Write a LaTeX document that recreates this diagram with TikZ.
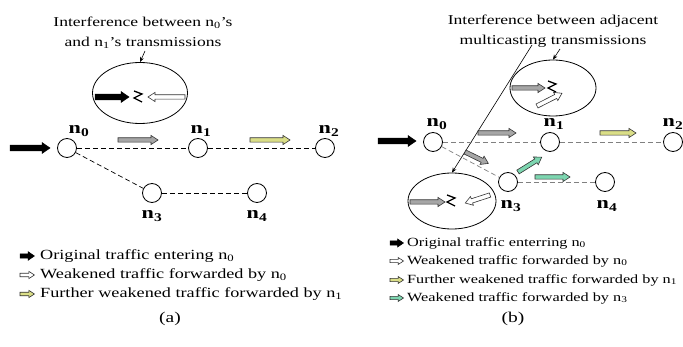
\documentclass[tikz,border=0pt]{standalone}
\usepackage{fontspec}
\setmainfont[FakeStretch=1.3]{Liberation Serif}
\usetikzlibrary{arrows.meta,shapes.geometric}
\definecolor{yel}{RGB}{218,222,135}
\definecolor{grn}{RGB}{125,214,176}
\tikzset{
  pics/tarr/.style 2 args={code={
    \path[fill=#1, draw=black!80, line width=0.6pt]
      (0,-2.2) -- (#2-7,-2.2) -- (#2-7,-4.6) -- (#2,0) -- (#2-7,4.6) -- (#2-7,2.2) -- (0,2.2) -- cycle;}},
  pics/barr/.style={code={
    \path[fill=black, draw=black, line width=0.5pt]
      (0,-2.8) -- (#1-8,-2.8) -- (#1-8,-5.5) -- (#1,0) -- (#1-8,5.5) -- (#1-8,2.8) -- (0,2.8) -- cycle;}},
  pics/zz/.style={code={
    \draw[line width=1.3pt] (1,-6) -- (9,-3) -- (1,1) -- (9,5);}},
  nd/.style={circle, draw, line width=0.8pt, minimum size=19pt, inner sep=0pt},
  lbl/.style={font=\fontsize{17}{17}\selectfont\bfseries, inner sep=0pt},
  ttl/.style={font=\fontsize{13.5}{20}\selectfont, align=center, inner sep=0pt},
  leg/.style={font=\fontsize{14}{14}\selectfont, anchor=west, inner sep=0pt},
  legb/.style={font=\fontsize{12.5}{12.5}\selectfont, anchor=west, inner sep=0pt},
  conn/.style={dash pattern=on 5pt off 3pt, line width=0.7pt},
  bubble/.style={ellipse, draw, line width=0.8pt, inner sep=0pt},
  ptr/.style={line width=0.6pt, -{Stealth[length=5pt,width=4pt]}}
}
\begin{document}
\begin{tikzpicture}[x=1pt,y=-1pt]
\useasboundingbox (0,0) rectangle (683,347);
% ---------------- (a) ----------------
\node[ttl] (ta) at (143,33) {Interference between n\textsubscript{0}'s\\and n\textsubscript{1}'s transmissions};
\coordinate (tap) at (145,51);
\node[bubble, minimum width=95pt, minimum height=61pt] (ea) at (140,93) {};
\draw[ptr] (tap) -- (ea.north);
\pic at (95,97) {barr={34}};
\pic at (133,97) {zz};
\pic[rotate=180] at (185,97) {tarr={white}{37}};

\node[nd] (a0) at (67,148) {};
\node[nd] (a1) at (198,148) {};
\node[nd] (a2) at (325,148) {};
\node[nd] (a3) at (152,193) {};
\node[nd] (a4) at (257,193) {};
\node[lbl] (la0) at (79,131) {n\textsubscript{0}};
\node[lbl] (la1) at (201,131) {n\textsubscript{1}};
\node[lbl] (la2) at (329,131) {n\textsubscript{2}};
\node[lbl] (la3) at (152,216) {n\textsubscript{3}};
\node[lbl] (la4) at (257,216) {n\textsubscript{4}};
\draw[conn] (a0) -- (a1);
\draw[conn] (a1) -- (a2);
\draw[conn] (a0) -- (a3);
\draw[conn] (a3) -- (a4);
\pic at (10,148) {barr={40}};
\pic at (118,140) {tarr={gray!70}{40}};
\pic at (250,140) {tarr={yel}{40}};

\pic[scale=0.8] at (20,256) {barr={18}};
\pic[scale=0.8] at (20,275) {tarr={white}{18}};
\pic[scale=0.8] at (20,294) {tarr={yel}{18}};
\node[leg] (g1) at (40,256) {Original traffic entering n\textsubscript{0}};
\node[leg] (g2) at (40,275) {Weakened traffic forwarded by n\textsubscript{0}};
\node[leg] (g3) at (40,294) {Further weakened traffic forwarded by n\textsubscript{1}};
\node[font=\fontsize{15}{15}\selectfont] (capa) at (170,319) {(a)};

% ---------------- (b) ----------------
\node[ttl] (tb) at (553,31) {Interference between adjacent\\multicasting transmissions};
\coordinate (tbp1) at (532,45);
\coordinate (tbp2) at (560,49);
\node[bubble, minimum width=86pt, minimum height=56pt] (eb1) at (553,88) {};
\node[bubble, minimum width=88pt, minimum height=56pt] (eb2) at (452,201) {};
\draw[ptr] (tbp1) -- (eb2.north);
\draw[ptr] (tbp2) -- (eb1.north);
\pic at (512,88) {tarr={gray!70}{33}};
\pic at (547,87) {zz};
\pic[rotate=27] at (537,106) {tarr={white}{28}};
\pic at (410,202) {tarr={gray!70}{35}};
\pic at (446,201) {zz};
\pic[rotate=198] at (490,195) {tarr={white}{26}};

\node[nd] (b0) at (433,142) {};
\node[nd] (b1) at (550,142) {};
\node[nd] (b2) at (673,142) {};
\node[nd] (b3) at (508,182) {};
\node[nd] (b4) at (605,182) {};
\node[lbl] (lb0) at (437,124) {n\textsubscript{0}};
\node[lbl] (lb1) at (554,124) {n\textsubscript{1}};
\node[lbl] (lb2) at (673,124) {n\textsubscript{2}};
\node[lbl] (lb3) at (511,206) {n\textsubscript{3}};
\node[lbl] (lb4) at (607,206) {n\textsubscript{4}};
\draw[conn, gray] (b0) -- (b1);
\draw[conn, gray] (b1) -- (b2);
\draw[conn, gray] (b0) -- (b3);
\draw[conn, gray] (b3) -- (b4);
\pic at (378,141) {barr={38}};
\pic at (478,133) {tarr={gray!70}{38}};
\pic at (600,133) {tarr={yel}{36}};
\pic[rotate=-26] at (465,152) {tarr={gray!70}{26}};
\pic[rotate=32] at (518,172) {tarr={grn}{28}};
\pic at (535,177) {tarr={grn}{35}};

\pic[scale=0.75] at (390,243) {barr={18}};
\pic[scale=0.75] at (390,261) {tarr={white}{18}};
\pic[scale=0.75] at (390,280) {tarr={yel}{18}};
\pic[scale=0.75] at (390,298) {tarr={grn}{18}};
\node[legb] (h1) at (407,243) {Original traffic enterring n\textsubscript{0}};
\node[legb] (h2) at (407,261) {Weakened traffic forwarded by n\textsubscript{0}};
\node[legb] (h3) at (407,280) {Further weakened traffic forwarded by n\textsubscript{1}};
\node[legb] (h4) at (407,298) {Weakened traffic forwarded by n\textsubscript{3}};
\node[font=\fontsize{15}{15}\selectfont] (capb) at (513,319) {(b)};
\end{tikzpicture}
\end{document}
